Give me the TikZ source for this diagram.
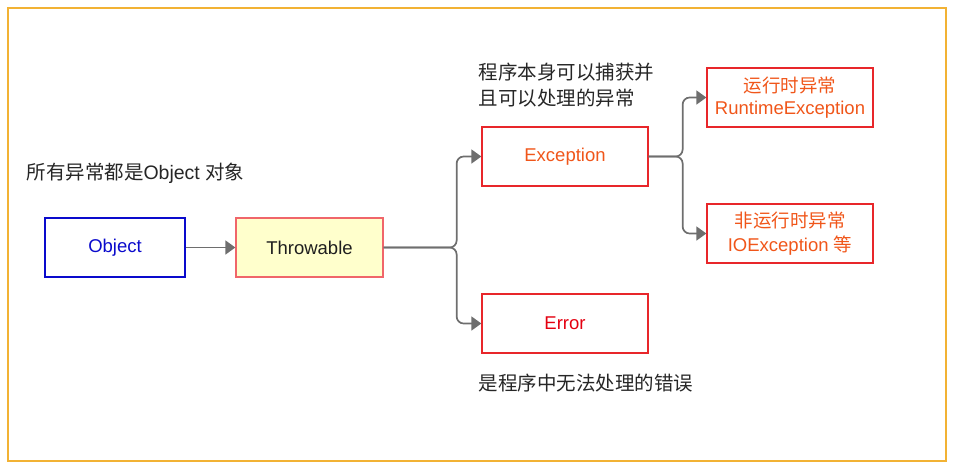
\documentclass[tikz,border=0pt]{standalone}
\usepackage{fontspec}
\setmainfont{Liberation Sans}
\newfontfamily\cjk{Noto Sans CJK SC}
\usetikzlibrary{arrows.meta,positioning}

\definecolor{framegold}{HTML}{F2B234}
\definecolor{objblue}{HTML}{0A0ACC}
\definecolor{boxred}{HTML}{E8262A}
\definecolor{excorange}{HTML}{F0561A}
\definecolor{errred}{HTML}{E40010}
\definecolor{throwfill}{HTML}{FFFFCC}
\definecolor{throwline}{HTML}{F0666A}
\definecolor{linkgray}{HTML}{6E6E6E}

\begin{document}
\begin{tikzpicture}[x=1pt, y=-1pt, >={Triangle[length=10pt,width=14pt]},
  box/.style={draw, line width=1.3pt, minimum width=140pt, minimum height=59pt,
    inner sep=0pt, align=center, font=\fontsize{18.5}{22}\selectfont},
  wide/.style={box, minimum width=166pt},
  note/.style={anchor=west, align=left, text=black!85, font=\fontsize{19.5}{26}\selectfont},
  link/.style={->, draw=linkgray, line width=1.7pt, rounded corners=7pt}]
  % canvas 960 x 475 px, one px = one pt
  \useasboundingbox (0,0) rectangle (960,475);
  \draw[framegold, line width=2pt] (7.5,7.5) rectangle (946,460.5);

  % Class boxes
  \node[box, draw=objblue, text=objblue] (obj) at (115,247.5) {Object};
  \node[box, minimum width=147pt, draw=throwline, fill=throwfill, text=black!88] (throw) at (309.5,247.5) {Throwable};
  \node[wide, draw=boxred, text=excorange] (exc) at (565,156.5) {Exception};
  \node[wide, draw=boxred, text=errred] (err) at (565,323.5) {Error};
  \node[wide, draw=boxred, text=excorange, font=\fontsize{18.5}{22.5}\selectfont] (rte) at (790,97.5)
    {{\cjk 运行时异常}\\RuntimeException};
  \node[wide, draw=boxred, text=excorange, font=\fontsize{18.5}{24}\selectfont] (ioe) at (790,233.5)
    {{\cjk 非运行时异常}\\IOException {\cjk 等}};

  % Remarks
  \node[note] (noteobj) at (23,173) {{\cjk 所有异常都是}Object {\cjk 对象}};
  \node[note] (noteexc) at (475,85) {{\cjk 程序本身可以捕获并}\\{\cjk 且可以处理的异常}};
  \node[note] (noteerr) at (475,383) {{\cjk 是程序中无法处理的错误}};

  % Inheritance links
  \draw[link] (obj) -- (throw);
  \draw[link] (throw.east) -- ++(73,0) |- (exc.west);
  \draw[link] (throw.east) -- ++(73,0) |- (err.west);
  \draw[link] (exc.east) -- ++(34,0) |- (rte.west);
  \draw[link] (exc.east) -- ++(34,0) |- (ioe.west);
\end{tikzpicture}
\end{document}
